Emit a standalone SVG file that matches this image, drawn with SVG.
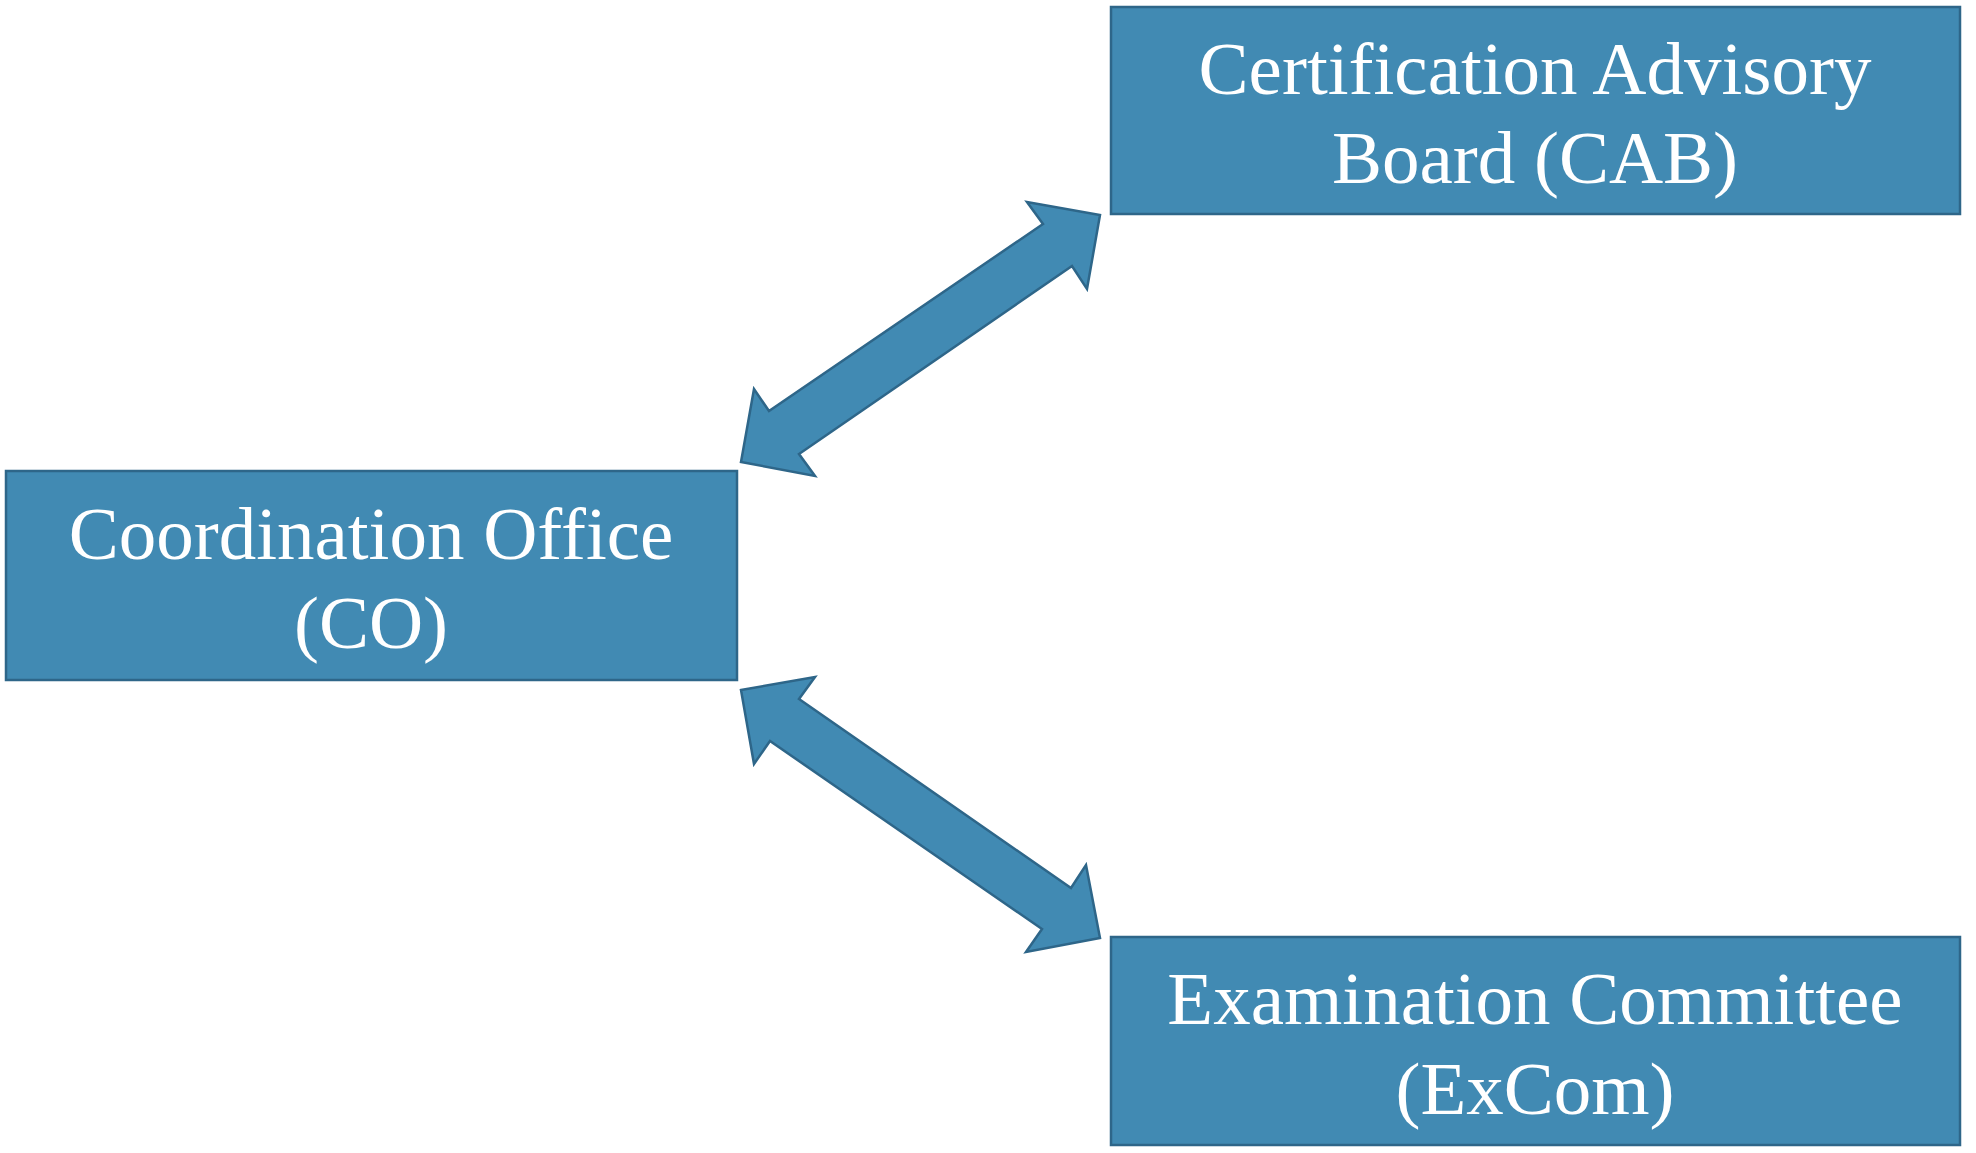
<svg xmlns="http://www.w3.org/2000/svg" width="1976" height="1153" viewBox="0 0 1976 1153">
<style>
.box{fill:#418AB3;stroke:#2E6689;stroke-width:2.5}
.arrow{fill:#418AB3;stroke:#2E6689;stroke-width:2.5;stroke-linejoin:miter}
.lbl{font-family:"Liberation Serif","Times New Roman",serif;font-size:75px;fill:#FFFFFF;text-anchor:middle}
</style>
<rect width="1976" height="1153" fill="#FFFFFF"/>
<g id="connectors">
<polygon class="arrow" points="1100,215 1087,289 1072,266 799,454 815,476 741,462 754,389 769,411 1043,224 1027,202"/>
<polygon class="arrow" points="741,690 815,677 799,699 1071,888 1086,865 1100,938 1026,952 1042,929 770,741 754,764"/>
</g>
<g id="cab">
<rect class="box" x="1111" y="7" width="849" height="207"/>
<text class="lbl" x="1535" y="94">Certification Advisory</text>
<text class="lbl" x="1535" y="183">Board (CAB)</text>
</g>
<g id="co">
<rect class="box" x="6" y="471" width="731" height="209"/>
<text class="lbl" x="371" y="559">Coordination Office</text>
<text class="lbl" x="371" y="648">(CO)</text>
</g>
<g id="excom">
<rect class="box" x="1111" y="937" width="849" height="208"/>
<text class="lbl" x="1535" y="1024">Examination Committee</text>
<text class="lbl" x="1535" y="1114">(ExCom)</text>
</g>
</svg>
